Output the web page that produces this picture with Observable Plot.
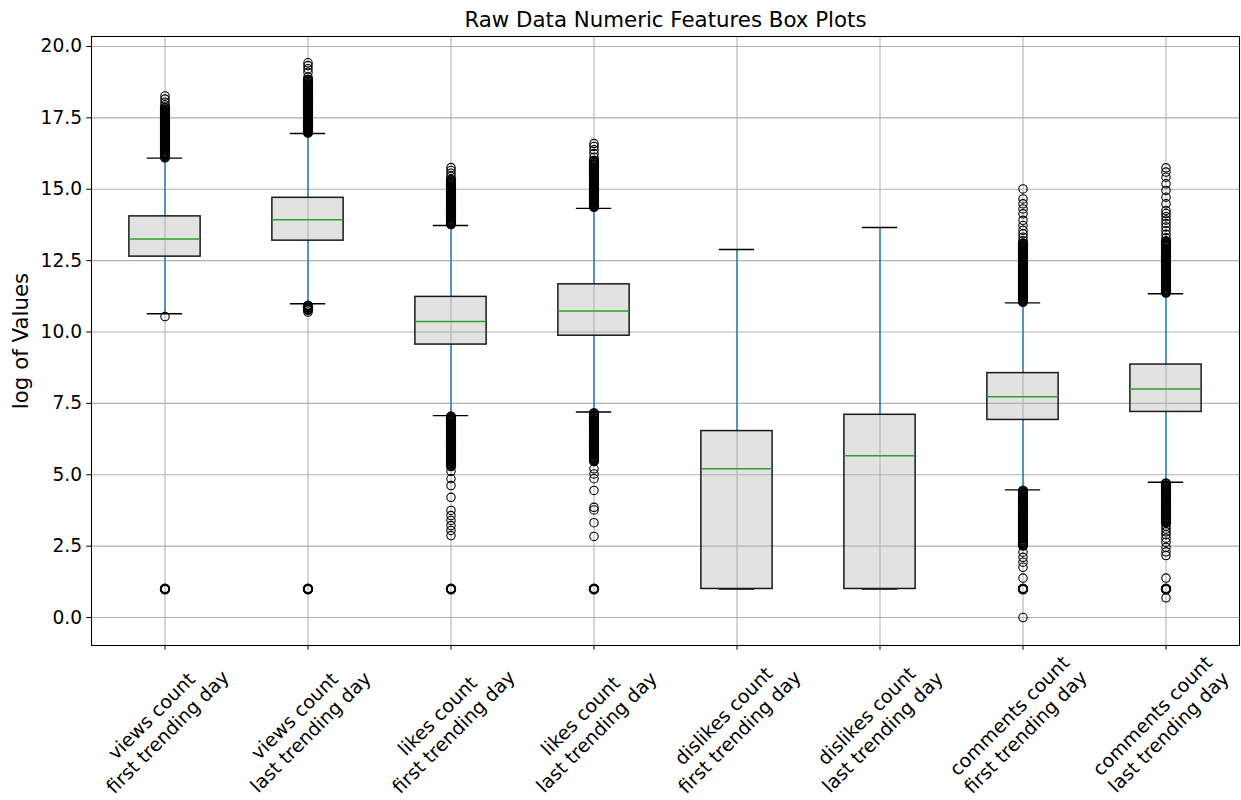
<!DOCTYPE html>
<html><head><meta charset="utf-8">
<script src="https://cdn.jsdelivr.net/npm/d3@7"></script>
<script src="https://cdn.jsdelivr.net/npm/@observablehq/plot@0.6"></script>
<style>body{margin:0;background:#fff;} svg{display:block}</style>
</head><body><div id="chart"></div>
<script>
const chartTitle = "Raw Data Numeric Features Box Plots";
const yLabel = "log of Values";
const categories = [
  "views count\nfirst trending day", "views count\nlast trending day",
  "likes count\nfirst trending day", "likes count\nlast trending day",
  "dislikes count\nfirst trending day", "dislikes count\nlast trending day",
  "comments count\nfirst trending day", "comments count\nlast trending day"
];
const q1          = [12.64, 13.20,  9.56,  9.87,  1.00,  1.00,  6.92,  7.20];
const medians     = [13.26, 13.93, 10.37, 10.74,  5.21,  5.67,  7.73,  8.00];
const q3          = [14.05, 14.70, 11.23, 11.67,  6.53,  7.10,  8.56,  8.86];
const whiskerLow  = [10.64, 10.99,  7.07,  7.20,  1.00,  1.00,  4.47,  4.74];
const whiskerHigh = [16.09, 16.95, 13.73, 14.33, 12.89, 13.66, 11.02, 11.34];
const yTicks = [0, 2.5, 5, 7.5, 10, 12.5, 15, 17.5, 20];

const viewsFirstOutliers = [16.12,16.18,16.24,16.30,16.36,16.42,16.48,16.54,16.60,16.66,16.72,16.78,16.84,16.90,16.96,17.02,17.08,17.14,17.20,17.26,17.32,17.38,17.44,17.50,17.56,17.62,17.68,17.74,17.80,17.86,17.95,18.05,18.16,18.27, 10.54, 0.99,1.00,1.01];
const viewsLastOutliers = [16.98,17.04,17.10,17.16,17.22,17.28,17.34,17.40,17.46,17.52,17.58,17.64,17.70,17.76,17.82,17.88,17.94,18.00,18.06,18.12,18.18,18.24,18.30,18.36,18.42,18.48,18.54,18.60,18.66,18.72,18.78,18.84,18.93,19.10,19.22,19.33,19.43, 10.92,10.85,10.78,10.70, 0.99,1.00,1.01];
const likesFirstOutliers = [13.78,13.84,13.90,13.96,14.02,14.08,14.14,14.20,14.26,14.32,14.38,14.44,14.50,14.56,14.62,14.68,14.74,14.80,14.86,14.92,14.98,15.04,15.10,15.16,15.22,15.28,15.34,15.45,15.56,15.66,15.76,
  7.04,6.98,6.92,6.86,6.80,6.74,6.68,6.62,6.56,6.50,6.44,6.38,6.32,6.26,6.20,6.14,6.08,6.02,5.96,5.90,5.84,5.78,5.72,5.66,5.60,5.54,5.48,5.42,5.36,5.30,5.12,4.86,4.62,4.21,3.75,3.57,3.40,3.22,3.05,2.87, 0.99,1.00,1.01];
const likesLastOutliers = [14.38,14.44,14.50,14.56,14.62,14.68,14.74,14.80,14.86,14.92,14.98,15.04,15.10,15.16,15.22,15.28,15.34,15.40,15.46,15.52,15.58,15.64,15.70,15.76,15.82,15.88,15.94,16.00,16.12,16.25,16.38,16.50,16.60,
  7.16,7.10,7.04,6.98,6.92,6.86,6.80,6.74,6.68,6.62,6.56,6.50,6.44,6.38,6.32,6.26,6.20,6.14,6.08,6.02,5.96,5.90,5.84,5.78,5.72,5.66,5.60,5.54,5.48,5.21,5.03,4.86,4.45,3.86,3.77,3.32,2.84, 0.99,1.00,1.01];
const dislikesFirstOutliers = [];
const dislikesLastOutliers = [];
const commentsFirstOutliers = [11.06,11.12,11.18,11.24,11.30,11.36,11.42,11.48,11.54,11.60,11.66,11.72,11.78,11.84,11.90,11.96,12.02,12.08,12.14,12.20,12.26,12.32,12.38,12.44,12.50,12.56,12.62,12.68,12.74,12.80,12.86,12.92,12.98,13.04,13.10,13.20,13.32,13.44,13.56,13.73,13.91,14.14,14.31,14.49,14.66,15.01,
  4.44,4.38,4.32,4.26,4.20,4.14,4.08,4.02,3.96,3.90,3.84,3.78,3.72,3.66,3.60,3.54,3.48,3.42,3.36,3.30,3.24,3.18,3.12,3.06,3.00,2.94,2.88,2.82,2.76,2.70,2.64,2.58,2.52,2.29,2.11,1.94,1.76,1.38, 0.99,1.00,1.01, 0.00];
const commentsLastOutliers = [11.38,11.44,11.50,11.56,11.62,11.68,11.74,11.80,11.86,11.92,11.98,12.04,12.10,12.16,12.22,12.28,12.34,12.40,12.46,12.52,12.58,12.64,12.70,12.76,12.82,12.88,12.94,13.00,13.06,13.12,13.18,13.30,13.42,13.55,13.68,13.80,13.92,14.04,14.15,14.26,14.49,14.72,14.96,15.19,15.42,15.60,15.75,
  4.70,4.64,4.58,4.52,4.46,4.40,4.34,4.28,4.22,4.16,4.10,4.04,3.98,3.92,3.86,3.80,3.74,3.68,3.62,3.56,3.50,3.44,3.38,3.32,3.20,3.10,3.00,2.90,2.78,2.64,2.46,2.30,2.17,1.38, 0.99,1.00,1.01, 0.69];
const outliers = [viewsFirstOutliers, viewsLastOutliers, likesFirstOutliers, likesLastOutliers,
  dislikesFirstOutliers, dislikesLastOutliers, commentsFirstOutliers, commentsLastOutliers];

const boxes = categories.map((c, i) => ({category: c, q1: q1[i], median: medians[i], q3: q3[i], lo: whiskerLow[i], hi: whiskerHigh[i]}));
// an outlier that has a close neighbour is part of a dense stack and is drawn with a heavier ring
const outlierRows = outliers.flatMap((arr, i) => arr.map(v => ({
  category: categories[i], value: v,
  dense: arr.some(w => w !== v && Math.abs(w - v) < 0.075)
})));

const W = 1241, H = 800, mL = 91, mR = 2, mT = 36, mB = 155;
const bw = (W - mL - mR) / categories.length;
const boxInset = bw * 0.25, capInset = bw * 0.375;
const grid = "#b0b0b0";

const chart = Plot.plot({
  width: W, height: H, marginLeft: mL, marginRight: mR, marginTop: mT, marginBottom: mB,
  style: {fontFamily: "DejaVu Sans", fontSize: "18.67px", background: "#fff", color: "#000"},
  x: {type: "band", domain: categories, padding: 0, axis: null},
  y: {domain: [-0.98, 20.35], axis: null},
  marks: [
    Plot.barY(boxes, {x: "category", y1: "q1", y2: "q3", insetLeft: boxInset, insetRight: boxInset, fill: "#e2e2e2"}),
    Plot.gridY(yTicks, {stroke: grid, strokeOpacity: 1, strokeWidth: 1.07}),
    Plot.gridX(categories, {stroke: grid, strokeOpacity: 1, strokeWidth: 1.07}),
    Plot.ruleX(boxes, {x: "category", y1: "q3", y2: "hi", stroke: "#1f77b4", strokeWidth: 1.4}),
    Plot.ruleX(boxes, {x: "category", y1: "lo", y2: "q1", stroke: "#1f77b4", strokeWidth: 1.4}),
    Plot.tickY(boxes, {x: "category", y: "hi", insetLeft: capInset, insetRight: capInset, stroke: "#000", strokeWidth: 1.4}),
    Plot.tickY(boxes, {x: "category", y: "lo", insetLeft: capInset, insetRight: capInset, stroke: "#000", strokeWidth: 1.4}),
    Plot.barY(boxes, {x: "category", y1: "q1", y2: "q3", insetLeft: boxInset, insetRight: boxInset, fill: "none", stroke: "#1a1a1a", strokeWidth: 1.5}),
    Plot.tickY(boxes, {x: "category", y: "median", insetLeft: boxInset, insetRight: boxInset, stroke: "#2ca02c", strokeWidth: 1.5}),
    Plot.dot(outlierRows.filter(d => !d.dense), {x: "category", y: "value", r: 4.2, stroke: "#000", strokeWidth: 1.1, fill: "none"}),
    Plot.dot(outlierRows.filter(d => d.dense), {x: "category", y: "value", r: 4.2, stroke: "#000", strokeWidth: 1.9, fill: "none"}),
    Plot.frame({stroke: "#000", strokeWidth: 1.07}),
    Plot.axisY(yTicks, {tickSize: 4.7, tickPadding: 4.7, tickFormat: d3.format(".1f"), label: null, fontSize: 18.67, stroke: "#000"}),
    Plot.axisX({tickSize: 4.7, tickFormat: () => "", label: null, stroke: "#000"}),
    Plot.text(categories, {x: d => d, text: d => d, frameAnchor: "bottom", dy: 78, dx: -6, rotate: -45, textAnchor: "middle", lineAnchor: "middle", lineHeight: 1.2, fontSize: 19, fill: "#000"}),
    Plot.text([chartTitle], {text: d => d, frameAnchor: "top", dy: -16, fontSize: 21.33, textAnchor: "middle", lineAnchor: "middle", fill: "#000"}),
    Plot.text([yLabel], {text: d => d, frameAnchor: "left", dx: -70, rotate: -90, fontSize: 21.33, textAnchor: "middle", lineAnchor: "middle", fill: "#000"})
  ]
});
document.getElementById("chart").appendChild(chart);
</script>
</body></html>
